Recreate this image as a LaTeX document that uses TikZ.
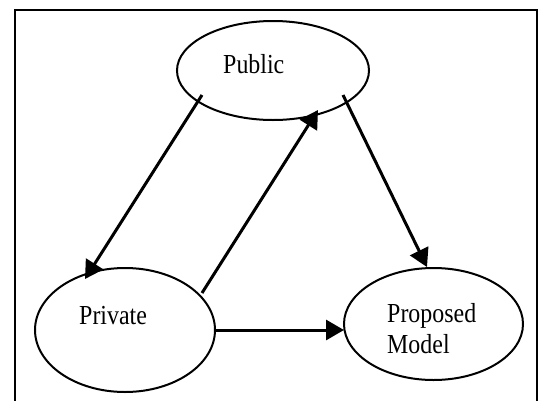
\documentclass[tikz,border=0pt]{standalone}
\usepackage{fontspec}
\usetikzlibrary{shapes.geometric,arrows.meta}
\newfontfamily\lblfont[FakeStretch=0.87]{Liberation Serif}
\tikzset{
  oval/.style={draw, ellipse, line width=2pt, inner sep=0pt},
  lbl/.style={font=\lblfont\fontsize{27.5pt}{31pt}\selectfont, inner sep=0pt, anchor=base west},
  arr/.style={line width=3pt, -{Triangle[length=18pt,width=20pt]}},
  frame/.style={line width=2pt}
}
\begin{document}
\begin{tikzpicture}[x=1pt,y=-1pt]
  \useasboundingbox (0,0) rectangle (542,400);
  % outer frame (bottom edge lies below the page)
  \draw[frame] (14.5,410) -- (14.5,9.7) -- (536.8,9.7) -- (536.8,410);

  % the three stages
  \node[oval, minimum width=192pt, minimum height=99pt] (pub) at (273,70.5) {};
  \node[oval, minimum width=180pt, minimum height=124pt] (priv) at (125,330) {};
  \node[oval, minimum width=179pt, minimum height=112pt] (prop) at (433.5,324) {};

  \node[lbl] (publbl) at (223,73) {Public};
  \node[lbl] (privlbl) at (79,324) {Private};
  % base anchor of a two-line node sits on its last line
  \node[lbl, align=left] (proplbl) at (387,353) {Proposed\\Model};

  % flows between the stages
  \draw[arr] ([shift={(-71,24.5)}]pub.center) -- ([shift={(-40,-51)}]priv.center);
  \draw[arr] ([shift={(77,-37)}]priv.center) -- ([shift={(45,39.5)}]pub.center);
  \draw[arr] ([shift={(70,24.5)}]pub.center) -- ([shift={(-6.5,-57)}]prop.center);
  \draw[arr] ([shift={(90,0)}]priv.center) -- ([shift={(-89.5,6)}]prop.center);
\end{tikzpicture}
\end{document}
